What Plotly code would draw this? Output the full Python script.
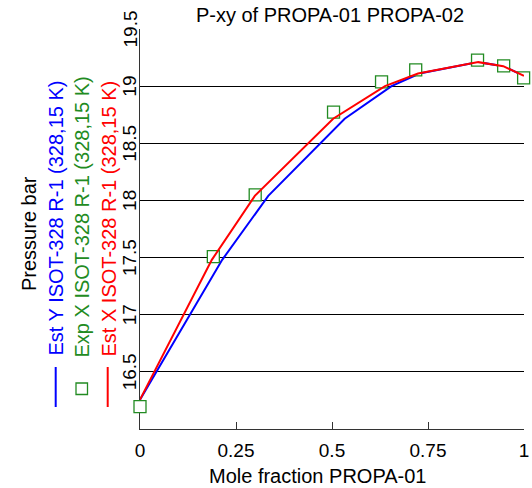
import plotly.graph_objects as go

# Tie-line data (pressure in bar)
p_est = [16.257, 17.48, 18.04, 18.715, 19.0, 19.11, 19.21, 19.175, 19.09]
x_est = [0.0, 0.187, 0.299, 0.503, 0.638, 0.724, 0.881, 0.946, 1.0]
y_est = [0.0, 0.214, 0.334, 0.533, 0.655, 0.728, 0.881, 0.946, 1.0]

x_exp = [0.0, 0.191, 0.300, 0.504, 0.629, 0.718, 0.879, 0.947, 0.999]
p_exp = [16.196, 17.509, 18.049, 18.772, 19.038, 19.143, 19.228, 19.178, 19.073]

y_ticks = [16.5, 17, 17.5, 18, 18.5, 19, 19.5]
y_tick_text = ["16.5", "17", "17.5", "18", "18.5", "19", "19.5"]
x_ticks = [0, 0.25, 0.5, 0.75, 1]
x_tick_text = ["0", "0.25", "0.5", "0.75", "1"]

BLUE = "#0000FF"
RED = "#FF0000"
GREEN = "#228B22"
FONT = "Liberation Sans, Arial, sans-serif"

W, H = 532, 488
L, R, T, B = 140, 8, 29, 59
PW, PH = W - L - R, H - T - B

def px(xp):
    return (xp - L) / PW

def py(yp):
    return (H - B - yp) / PH

fig = go.Figure()
fig.add_trace(go.Scatter(x=y_est, y=p_est, mode="lines",
                         line=dict(color=BLUE, width=2), cliponaxis=False,
                         name="Est Y ISOT-328 R-1 (328,15 K)"))
fig.add_trace(go.Scatter(x=x_exp, y=p_exp, mode="markers",
                         marker=dict(symbol="square", size=12, color="white",
                                     line=dict(color=GREEN, width=1.3)),
                         cliponaxis=False,
                         name="Exp X ISOT-328 R-1 (328,15 K)"))
fig.add_trace(go.Scatter(x=x_est, y=p_est, mode="lines",
                         line=dict(color=RED, width=2), cliponaxis=False,
                         name="Est X ISOT-328 R-1 (328,15 K)"))

annotations = [
    dict(text="Pressure bar", x=px(29), y=py(234), textangle=-90,
         font=dict(size=20, color="black", family=FONT)),
    dict(text="Est Y ISOT-328 R-1 (328,15 K)", x=px(55), y=py(218.5), textangle=-90,
         font=dict(size=20, color=BLUE, family=FONT)),
    dict(text="Exp X ISOT-328 R-1 (328,15 K)", x=px(82), y=py(217.5), textangle=-90,
         font=dict(size=20, color=GREEN, family=FONT)),
    dict(text="Est X ISOT-328 R-1 (328,15 K)", x=px(108), y=py(218.5), textangle=-90,
         font=dict(size=20, color=RED, family=FONT)),
    dict(text="Mole fraction PROPA-01", x=px(318), y=py(476), textangle=0,
         font=dict(size=20, color="black", family=FONT)),
]
for a in annotations:
    a.update(xref="paper", yref="paper", showarrow=False,
             xanchor="center", yanchor="middle")

# rotated y tick labels placed on the y scale
for v, t in zip(y_ticks, y_tick_text):
    annotations.append(dict(text=t, xref="paper", yref="y", x=px(129.5), y=v,
                            textangle=-90, showarrow=False,
                            xanchor="center", yanchor="middle",
                            font=dict(size=19, color="black", family=FONT)))

shapes = [
    dict(type="line", xref="paper", yref="paper", x0=px(55.7), x1=px(55.7),
         y0=py(367), y1=py(407), line=dict(color=BLUE, width=2)),
    dict(type="line", xref="paper", yref="paper", x0=px(107.7), x1=px(107.7),
         y0=py(367), y1=py(407), line=dict(color=RED, width=2)),
    dict(type="rect", xref="paper", yref="paper", x0=px(76), x1=px(87.5),
         y0=py(383), y1=py(394.5), line=dict(color=GREEN, width=1.3),
         fillcolor="white"),
]

fig.update_layout(
    width=W, height=H,
    margin=dict(l=L, r=R, t=T, b=B, pad=0, autoexpand=False),
    paper_bgcolor="white", plot_bgcolor="white",
    showlegend=False,
    font=dict(family=FONT, size=19, color="black"),
    title=dict(text="P-xy of PROPA-01 PROPA-02", x=330 / W, xanchor="center",
               y=1 - 15 / H, yanchor="middle",
               font=dict(size=20, family=FONT, color="black")),
    annotations=annotations,
    shapes=shapes,
    xaxis=dict(range=[0, 1], tickvals=x_ticks, ticktext=x_tick_text,
               ticks="inside", ticklen=7, tickcolor="#333", tickwidth=1,
               showline=True, linecolor="#333", linewidth=1,
               showgrid=False, zeroline=False, layer="below traces",
               tickfont=dict(size=19), ticklabelstandoff=4, automargin=False),
    yaxis=dict(range=[16.0, 19.5], tickvals=y_ticks, showticklabels=False,
               ticks="", showline=True, linecolor="#333", linewidth=1,
               showgrid=True, gridcolor="black", gridwidth=1, automargin=False,
               zeroline=False, layer="below traces"),
)

fig.write_html("out.html")
